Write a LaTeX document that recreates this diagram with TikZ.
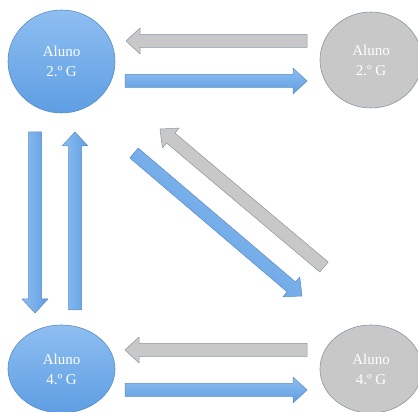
\documentclass[tikz,border=0pt]{standalone}
\usepackage{fontspec}
\setmainfont{Liberation Serif}
\usetikzlibrary{calc,shapes.geometric}
\definecolor{bluefillA}{HTML}{8EBEF1}
\definecolor{bluefillB}{HTML}{5E9EE3}
\definecolor{blueedge}{HTML}{5A8CC4}
\definecolor{grayfill}{HTML}{C8C8C8}
\definecolor{grayedge}{HTML}{8796A6}
\tikzset{
  bluenode/.style={ellipse,draw=blueedge,line width=0.6pt,top color=bluefillA,bottom color=bluefillB,text=white,align=center,font=\fontsize{15}{20}\selectfont,inner sep=0pt},
  graynode/.style={ellipse,draw=grayedge,line width=0.6pt,fill=grayfill,text=white,align=center,font=\fontsize{15}{20}\selectfont,inner sep=0pt},
  bluearr/.style={draw=blueedge,line width=0.5pt,top color=bluefillA,bottom color=bluefillB,line join=round},
  grayarr/.style={draw=grayedge,line width=0.5pt,fill=grayfill,line join=round}
}
% #1 style, #2 tail, #3 tip, #4 name prefix
\newcommand\blockarr[4]{%
  \coordinate (#4b) at ($(#3)!14pt!(#2)$);
  \path[#1] ($(#2)!6.5pt!90:(#3)$) -- ($(#4b)!6.5pt!90:(#3)$) -- ($(#4b)!13pt!90:(#3)$) -- (#3)
     -- ($(#4b)!13pt!-90:(#3)$) -- ($(#4b)!6.5pt!-90:(#3)$) -- ($(#2)!6.5pt!-90:(#3)$) -- cycle;
}
\begin{document}
\begin{tikzpicture}[x=1pt,y=1pt]
\useasboundingbox (0,0) rectangle (418,412);
\begin{scope}
\clip (0,0) rectangle (418,412);
\node[bluenode,minimum width=107pt,minimum height=103pt] (tl) at (61.5,350.5) {Aluno\\2.º G};
\node[graynode,minimum width=102pt,minimum height=96pt] (tr) at (371,352) {Aluno\\2.º G};
\node[bluenode,minimum width=107pt,minimum height=88pt] (bl) at (61.5,43) {Aluno\\4.º G};
\node[graynode,minimum width=102pt,minimum height=88pt] (br) at (371,43) {Aluno\\4.º G};
\end{scope}
% arrow end coordinates
\coordinate (a1t) at (307,371); \coordinate (a1h) at (126,371);
\coordinate (a2t) at (125,331); \coordinate (a2h) at (307,331);
\coordinate (a3t) at (307,62);  \coordinate (a3h) at (125,62);
\coordinate (a4t) at (125,22);  \coordinate (a4h) at (307,22);
\coordinate (a5t) at (35,280);  \coordinate (a5h) at (35,99);
\coordinate (a6t) at (75,102);  \coordinate (a6h) at (75,280);
\coordinate (a7t) at (134,259); \coordinate (a7h) at (302,116);
\coordinate (a8t) at (324,145); \coordinate (a8h) at (160,283);
\blockarr{grayarr}{a1t}{a1h}{x1}
\blockarr{bluearr}{a2t}{a2h}{x2}
\blockarr{grayarr}{a3t}{a3h}{x3}
\blockarr{bluearr}{a4t}{a4h}{x4}
\blockarr{bluearr,shading angle=90}{a5t}{a5h}{x5}
\blockarr{bluearr,shading angle=90}{a6t}{a6h}{x6}
\blockarr{bluearr,shading angle=-40}{a7t}{a7h}{x7}
\blockarr{grayarr}{a8t}{a8h}{x8}
\end{tikzpicture}
\end{document}
